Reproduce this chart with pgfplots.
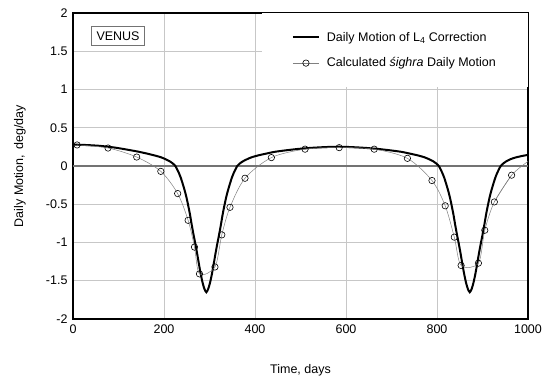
\documentclass[border=0pt]{standalone}
\usepackage{fontspec}
\setmainfont{Liberation Sans}
\usepackage{pgfplots}
\pgfplotsset{compat=1.18}
\begin{document}
\begin{tikzpicture}
\begin{axis}[
  name=ax,
  scale only axis,
  width=455pt, height=306pt,
  xmin=0, xmax=1000, ymin=-2, ymax=2,
  xtick={0,200,400,600,800,1000},
  ytick={-2,-1.5,-1,-0.5,0,0.5,1,1.5,2},
  /pgf/number format/assume math mode=true,
  /pgf/number format/1000 sep={},
  tick label style={font=\fontsize{12.5}{14}\selectfont},
  major tick length=0pt,
  grid=major,
  major grid style={draw=black!22, line width=0.6pt},
  axis line style={line width=1.1pt},
  xlabel={Time, days},
  ylabel={Daily Motion,\, deg/day},
  every axis x label/.style={at={(axis description cs:0.5,0)}, anchor=center, yshift=-51pt, font=\fontsize{12.5}{14}\selectfont},
  every axis y label/.style={at={(axis description cs:0,0.5)}, xshift=-53pt, anchor=center, rotate=90, font=\fontsize{12.5}{14}\selectfont},
  xticklabel style={yshift=-2pt},
  yticklabel style={xshift=-2pt},
  legend cell align=left,
  legend style={at={(1,1)}, anchor=north east, draw=none, fill=white,
    font=\fontsize{12.5}{14}\selectfont, inner xsep=30pt, inner ysep=17pt, row sep=11pt, column sep=5pt},
  legend image code/.code={\draw[mark repeat=2,mark phase=2,#1] plot coordinates {(0pt,0pt) (13pt,0pt) (26pt,0pt)};},
]
\addplot[forget plot, draw=black!55, line width=1.3pt] coordinates {(0,0) (1000,0)};

\addplot[black, line width=2pt, smooth, tension=0.4] coordinates {
(0,0.280) (30,0.274) (60,0.263) (93,0.240) (118,0.215) (143,0.188) (163,0.162)
(178,0.140) (193,0.115) (203,0.090) (213,0.060) (219,0.035) (225,0.000)
(229,-0.045) (233,-0.095) (237,-0.155) (241,-0.23) (245,-0.31) (249,-0.40)
(253,-0.51) (257,-0.63) (261,-0.77) (265,-0.90) (269,-1.02) (273,-1.15)
(277,-1.29) (281,-1.42) (285,-1.53) (289,-1.61) (293,-1.65) (297,-1.61)
(301,-1.53) (305,-1.42) (309,-1.29) (313,-1.15) (317,-1.02) (321,-0.90)
(325,-0.77) (329,-0.63) (333,-0.51) (337,-0.40) (341,-0.31) (345,-0.23)
(349,-0.155) (353,-0.095) (357,-0.045) (361,0.000) (367,0.035) (373,0.060)
(383,0.090) (393,0.115) (408,0.140) (423,0.160) (443,0.185) (468,0.205)
(493,0.222) (523,0.237) (553,0.247) (583,0.252) (612,0.247) (642,0.237)
(672,0.222) (697,0.205) (722,0.185) (742,0.160) (757,0.140) (772,0.115)
(782,0.090) (792,0.060) (798,0.035) (804,0.000) (808,-0.045) (812,-0.095)
(816,-0.155) (820,-0.23) (824,-0.31) (828,-0.40) (832,-0.51) (836,-0.63)
(840,-0.77) (844,-0.90) (848,-1.02) (852,-1.15) (856,-1.29) (860,-1.42)
(864,-1.53) (868,-1.61) (872,-1.65) (876,-1.61) (880,-1.53) (884,-1.42)
(888,-1.29) (892,-1.15) (896,-1.02) (900,-0.90) (904,-0.77) (908,-0.63)
(912,-0.51) (916,-0.40) (920,-0.31) (924,-0.23) (928,-0.155) (932,-0.095)
(936,-0.045) (940,0.000) (946,0.035) (952,0.060) (962,0.090) (972,0.110)
(986,0.130) (1000,0.145)
};
\addlegendentry{Daily Motion of L\textsubscript{4} Correction}

\addplot[black!50, line width=0.5pt, smooth, mark=o, mark size=3.2pt,
  mark options={draw=black, fill=white, line width=0.6pt}] coordinates {
(9,0.275) (77,0.235) (140,0.117) (193,-0.07) (230,-0.36) (253,-0.71)
(267,-1.06) (278,-1.41) (312,-1.32) (327,-0.90) (345,-0.54) (378,-0.16)
(436,0.11) (510,0.22) (585,0.24) (662,0.22) (735,0.10) (789,-0.19)
(818,-0.52) (838,-0.93) (853,-1.30) (891,-1.27) (905,-0.84) (926,-0.47)
(964,-0.12)
};
\addlegendentry{Calculated \textit{śighra} Daily Motion}

\addplot[forget plot, black!50, line width=0.5pt, smooth] coordinates {(926,-0.47) (964,-0.12) (1000,0.06)};

\node[draw=black!55, line width=0.6pt, fill=white, inner xsep=5pt, minimum height=19pt,
  font=\fontsize{12.5}{14}\selectfont] at (rel axis cs:0.099,0.925) {VENUS};
\end{axis}
\pgfresetboundingbox
\path (ax.south west)+(-73pt,-62pt) rectangle ([shift={(16pt,13pt)}]ax.north east);
\end{tikzpicture}
\end{document}
